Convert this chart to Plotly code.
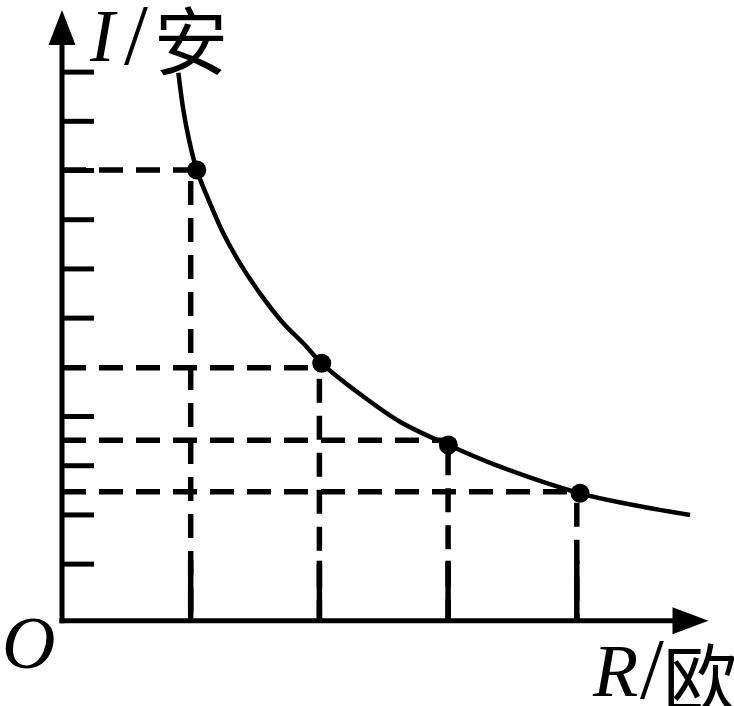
import plotly.graph_objects as go

# ---------------- data ----------------
# resistance in "grid units" (one unit per vertical guide), current in tick units
R_points = [1.047, 2.018, 3.002, 4.025]
I_points = [9.161, 5.232, 3.571, 2.589]

# smooth curve I(R)
R_curve = [0.904, 0.943, 0.982, 1.047, 1.150, 1.253, 1.383, 1.538, 1.720, 1.875,
           2.018, 2.315, 2.626, 3.002, 3.403, 4.025, 4.439, 4.880]
I_curve = [11.138, 10.380, 9.837, 9.161, 8.484, 7.874, 7.264, 6.654, 6.045, 5.638,
           5.232, 4.608, 4.045, 3.571, 3.130, 2.589, 2.352, 2.148]

# dashed guide lines
R_guides = [1.00, 2.00, 3.00, 4.00]
I_guides = [9.16, 5.14, 3.67, 2.62]

# tick marks on the current axis
I_ticks = [1.15, 2.15, 3.15, 4.15, 6.15, 7.15, 8.15, 9.15, 10.15, 11.15]

# axis titles
Y_TITLE = ["<i>I</i>", "/", "安"]
X_TITLE = ["<i>R</i>", "/", "欧"]
ORIGIN_LABEL = "<i>O</i>"

# ---------------- scale (pixels per unit) ----------------
W, H = 734, 706
OX, OY = 62.0, 620.7          # origin in pixels
SX, SY = 128.7, 49.2          # pixels per unit
x_range = [-OX / SX, (W - OX) / SX]
y_range = [-(H - OY) / SY, OY / SY]

def dx(p):  # pixel length -> x data
    return p / SX

def dy(p):  # pixel length -> y data
    return p / SY

BLACK = "#000000"
DASH = "24px,13px"

fig = go.Figure()

# dashed guides
for r, i in zip(R_guides, I_guides):
    fig.add_trace(go.Scatter(x=[0, r], y=[i, i], mode="lines",
                             line=dict(color=BLACK, width=5.5, dash=DASH),
                             hoverinfo="skip"))
    fig.add_trace(go.Scatter(x=[r, r], y=[i - dy(11), 0], mode="lines",
                             line=dict(color=BLACK, width=5.5, dash=DASH),
                             hoverinfo="skip"))
    # solid foot of the vertical guide
    fig.add_trace(go.Scatter(x=[r, r], y=[dy(60), 0], mode="lines",
                             line=dict(color=BLACK, width=5.5),
                             hoverinfo="skip"))

# curve
fig.add_trace(go.Scatter(x=R_curve, y=I_curve, mode="lines",
                         line=dict(color=BLACK, width=4.5, shape="spline", smoothing=1.0),
                         hoverinfo="skip"))

# points
fig.add_trace(go.Scatter(x=R_points, y=I_points, mode="markers",
                         marker=dict(color=BLACK, size=19),
                         cliponaxis=False, hoverinfo="skip"))

shapes = []
# axes
y_top = dy(OY - 45)
x_end = dx(675 - OX)
shapes.append(dict(type="line", xref="x", yref="y", x0=0, y0=-dy(2.5), x1=0, y1=y_top,
                   line=dict(color=BLACK, width=5)))
shapes.append(dict(type="line", xref="x", yref="y", x0=-dx(2.5), y0=0, x1=x_end, y1=0,
                   line=dict(color=BLACK, width=5)))
# arrowheads
tip_y = dy(OY - 10)
base_y = dy(OY - 45)
hw = dx(13.5)
shapes.append(dict(type="path", xref="x", yref="y",
                   path=f"M {-hw},{base_y} L 0,{tip_y} L {hw},{base_y} Z",
                   fillcolor=BLACK, line=dict(width=0)))
tip_x = dx(708.5 - OX)
base_x = dx(672.5 - OX)
hh = dy(13.5)
shapes.append(dict(type="path", xref="x", yref="y",
                   path=f"M {base_x},{-hh} L {tip_x},0 L {base_x},{hh} Z",
                   fillcolor=BLACK, line=dict(width=0)))
# ticks
for t in I_ticks:
    shapes.append(dict(type="line", xref="x", yref="y", x0=0, y0=t, x1=dx(32), y1=t,
                       line=dict(color=BLACK, width=5)))

SERIF = "Liberation Serif, Times New Roman, serif"
CJK = "Noto Sans CJK SC, Noto Sans CJK JP, sans-serif"

def px_x(p):
    return p / W

def px_y(p):
    return 1 - p / H

def label(text, cx, cy, family, size):
    return dict(text=text, xref="paper", yref="paper",
                x=px_x(cx), y=px_y(cy), xanchor="center", yanchor="middle",
                showarrow=False, font=dict(family=family, size=size, color=BLACK))

annotations = [
    label(Y_TITLE[0], 103, 36, SERIF, 74),
    label(Y_TITLE[1], 136, 35, SERIF, 86),
    label(Y_TITLE[2], 191, 37, CJK, 74),
    label(ORIGIN_LABEL, 28, 643, SERIF, 74),
    label(X_TITLE[0], 615, 671, SERIF, 74),
    label(X_TITLE[1], 652, 669, SERIF, 86),
    label(X_TITLE[2], 700, 673, CJK, 74),
]

fig.update_layout(
    width=W, height=H,
    margin=dict(l=0, r=0, t=0, b=0),
    paper_bgcolor="white", plot_bgcolor="white",
    showlegend=False,
    xaxis=dict(range=x_range, visible=False, fixedrange=True),
    yaxis=dict(range=y_range, visible=False, fixedrange=True),
    shapes=shapes,
    annotations=annotations,
)

fig.write_html(
    "out.html",
    config={"displayModeBar": False},
    post_script="document.body.style.margin='0';document.body.style.overflow='hidden';",
)
